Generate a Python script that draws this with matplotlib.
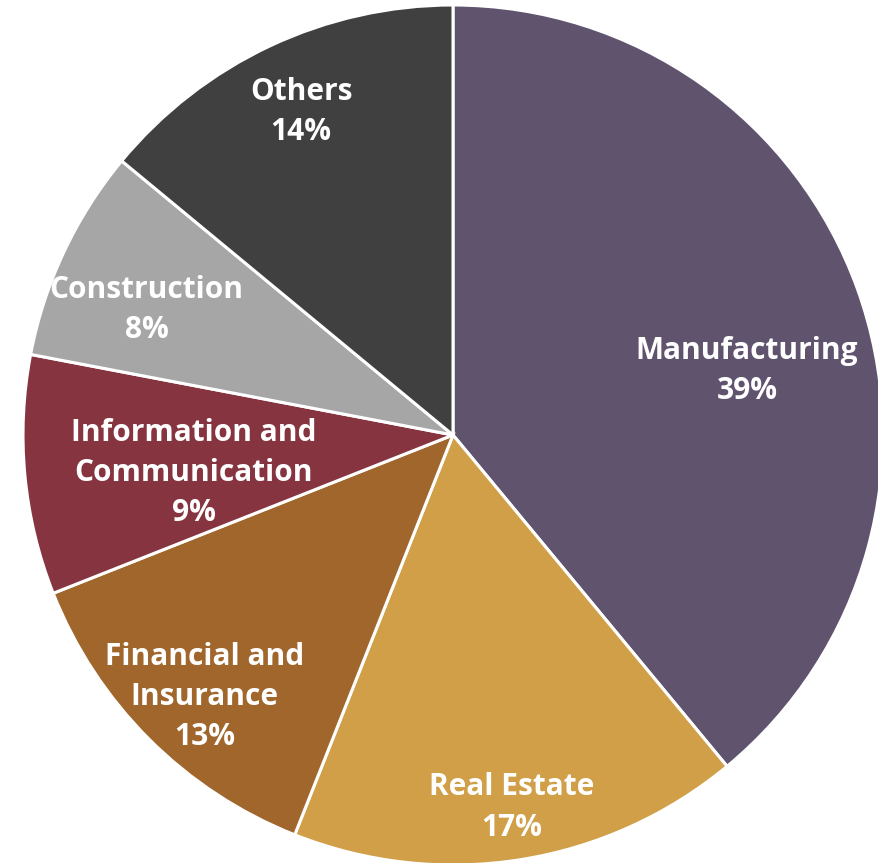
import numpy as np
import matplotlib.pyplot as plt

# Sector shares (%), drawn clockwise from 12 o'clock
sectors = ["Manufacturing", "Real Estate", "Financial and\nInsurance",
           "Information and\nCommunication", "Construction", "Others"]
shares = [39, 17, 13, 9, 8, 14]
colors = ["#5f536d", "#d09f48", "#a0662b", "#863540", "#a6a6a6", "#404040"]

# how far out each label sits (fraction of radius) and a small angle nudge in degrees
label_r = [0.70, 0.877, 0.84, 0.61, 0.77, 0.83]
label_nudge = [-7.5, 0, 1.5, 3, 3, 0]

fig = plt.figure(figsize=(8.79, 8.63), dpi=100)
ax = fig.add_axes([0, 0, 1, 1])

wedges, _ = ax.pie(shares, colors=colors, startangle=90, counterclock=False,
                   radius=1.0, wedgeprops=dict(edgecolor="white", linewidth=2.2))

for w, name, val, r, nudge in zip(wedges, sectors, shares, label_r, label_nudge):
    mid = np.deg2rad((w.theta1 + w.theta2) / 2 + nudge)
    ax.text(r * np.cos(mid), r * np.sin(mid), f"{name}\n{val}%",
            ha="center", va="center", color="white", fontsize=21.5,
            fontweight="bold", family="Open Sans", linespacing=1.44)

ax.set_xlim(-453 / 430, (879 - 453) / 430)
ax.set_ylim(-(863 - 435) / 430, 435 / 430)
ax.set_aspect("auto")
ax.axis("off")

fig.savefig("out.png", dpi=100)
